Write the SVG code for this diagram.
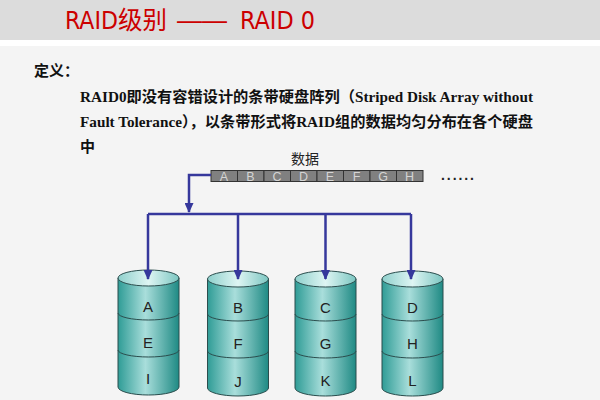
<svg xmlns="http://www.w3.org/2000/svg" width="600" height="400" viewBox="0 0 600 400">
<defs>
<linearGradient id="body" x1="0" y1="0" x2="1" y2="0">
<stop offset="0" stop-color="#2f9c96"/>
<stop offset="0.45" stop-color="#a9dedb"/>
<stop offset="1" stop-color="#1f8a84"/>
</linearGradient>
<linearGradient id="top" x1="0" y1="0" x2="1" y2="0">
<stop offset="0" stop-color="#8fd0cc"/>
<stop offset="0.5" stop-color="#def5f3"/>
<stop offset="1" stop-color="#7cc6c1"/>
</linearGradient>
<marker id="arr" markerWidth="10" markerHeight="9" refX="9" refY="4.5" orient="auto" markerUnits="userSpaceOnUse" viewBox="0 0 10 9">
<path d="M0,0 L10,4.5 L0,9 Z" fill="#36389c"/>
</marker>
</defs>
<style>
.title{font-family:"DejaVu Sans Condensed","Liberation Sans","Noto Sans CJK SC",sans-serif;font-stretch:condensed;font-size:25px;fill:#cc0000}
.def{font-family:"Liberation Serif","Noto Sans CJK SC",serif;font-size:15px;font-weight:bold;fill:#111}
.body{font-family:"Liberation Serif","Noto Sans CJK SC",serif;font-size:15px;font-weight:bold;fill:#111}
.cell{fill:#808080;stroke:#333;stroke-width:1}
.cl{font-family:"Liberation Sans",sans-serif;font-size:12.5px;fill:#d4d4d4;text-anchor:middle}
.lbl{font-family:"Liberation Sans","Noto Sans CJK SC",sans-serif;font-size:15px;fill:#222;text-anchor:middle}
.seg{fill:url(#body);stroke:#2b4d4d;stroke-width:1}
.cap{fill:url(#top);stroke:#2b4d4d;stroke-width:1}
.div{fill:none;stroke:#2b4d4d;stroke-width:1}
.conn{fill:none;stroke:#36389c;stroke-width:2.5}
</style>
<rect x="0" y="0" width="600" height="400" fill="#f4f4f4"/>
<rect x="0" y="0" width="600" height="40" fill="#dcdcdc"/>
<rect x="0" y="40" width="600" height="6" fill="#ffffff"/>
<text class="title" x="65" y="29" textLength="102" lengthAdjust="spacingAndGlyphs">RAID级别</text>
<text x="177" y="29" font-family="Liberation Sans,sans-serif" font-size="25" fill="#cc0000" textLength="50" lengthAdjust="spacingAndGlyphs">——</text>
<text class="title" x="240" y="29" textLength="75" lengthAdjust="spacingAndGlyphs">RAID 0</text>
<text class="def" x="34" y="76">定义：</text>
<text class="body" x="80" y="102" textLength="453" lengthAdjust="spacingAndGlyphs">RAID0即没有容错设计的条带硬盘阵列（Striped Disk Array without</text>
<text class="body" x="80" y="127" textLength="453" lengthAdjust="spacingAndGlyphs">Fault Tolerance），以条带形式将RAID组的数据均匀分布在各个硬盘</text>
<text class="body" x="80" y="152">中</text>
<g id="data">
<text x="305" y="164" font-family="Liberation Sans,Noto Sans CJK SC,sans-serif" font-size="14" fill="#222" text-anchor="middle">数据</text>
<rect class="cell" x="211" y="170.5" width="26.5" height="11"/>
<rect class="cell" x="237.5" y="170.5" width="26.5" height="11"/>
<rect class="cell" x="264" y="170.5" width="26.5" height="11"/>
<rect class="cell" x="290.5" y="170.5" width="26.5" height="11"/>
<rect class="cell" x="317" y="170.5" width="26.5" height="11"/>
<rect class="cell" x="343.5" y="170.5" width="26.5" height="11"/>
<rect class="cell" x="370" y="170.5" width="26.5" height="11"/>
<rect class="cell" x="396.5" y="170.5" width="26.5" height="11"/>
<text class="cl" x="224" y="181">A</text>
<text class="cl" x="250.5" y="181">B</text>
<text class="cl" x="277" y="181">C</text>
<text class="cl" x="303.5" y="181">D</text>
<text class="cl" x="330" y="181">E</text>
<text class="cl" x="356.5" y="181">F</text>
<text class="cl" x="383" y="181">G</text>
<text class="cl" x="409.5" y="181">H</text>
<text x="441" y="180" font-family="Liberation Sans,sans-serif" font-size="14" font-weight="bold" fill="#222" textLength="33" lengthAdjust="spacing">......</text>
</g>
<g id="disk1">
<path class="seg" d="M118,278 V387 A30.5 8 0 0 0 179,387 V278 Z"/>
<path class="div" d="M118,313 A30.5 7 0 0 0 179,313 M118,350 A30.5 7 0 0 0 179,350"/>
<ellipse class="cap" cx="148.5" cy="278" rx="30.5" ry="8"/>
<text class="lbl" x="148" y="312">A</text>
<text class="lbl" x="148" y="348">E</text>
<text class="lbl" x="148" y="384">I</text>
</g>
<g id="disk2">
<path class="seg" d="M207.5,279 V388 A30.5 8 0 0 0 268.5,388 V279 Z"/>
<path class="div" d="M207.5,314 A30.5 7 0 0 0 268.5,314 M207.5,351 A30.5 7 0 0 0 268.5,351"/>
<ellipse class="cap" cx="238" cy="279" rx="30.5" ry="8"/>
<text class="lbl" x="238" y="313">B</text>
<text class="lbl" x="238" y="349">F</text>
<text class="lbl" x="238" y="387">J</text>
</g>
<g id="disk3">
<path class="seg" d="M295,279 V388 A30.5 8 0 0 0 356,388 V279 Z"/>
<path class="div" d="M295,314 A30.5 7 0 0 0 356,314 M295,351 A30.5 7 0 0 0 356,351"/>
<ellipse class="cap" cx="325.5" cy="279" rx="30.5" ry="8"/>
<text class="lbl" x="325.5" y="313">C</text>
<text class="lbl" x="325.5" y="349">G</text>
<text class="lbl" x="325.5" y="386">K</text>
</g>
<g id="disk4">
<path class="seg" d="M382,279 V388 A30.5 8 0 0 0 443,388 V279 Z"/>
<path class="div" d="M382,314 A30.5 7 0 0 0 443,314 M382,351 A30.5 7 0 0 0 443,351"/>
<ellipse class="cap" cx="412.5" cy="279" rx="30.5" ry="8"/>
<text class="lbl" x="412.5" y="313">D</text>
<text class="lbl" x="412.5" y="349">H</text>
<text class="lbl" x="412.5" y="386">L</text>
</g>
<g id="connectors">
<path class="conn" d="M211,175 H189 V212" marker-end="url(#arr)"/>
<path class="conn" d="M148,214 H411"/>
<path class="conn" d="M148,214 V279" marker-end="url(#arr)"/>
<path class="conn" d="M238,214 V279" marker-end="url(#arr)"/>
<path class="conn" d="M325.5,214 V279" marker-end="url(#arr)"/>
<path class="conn" d="M411,214 V279" marker-end="url(#arr)"/>
</g>
</svg>
